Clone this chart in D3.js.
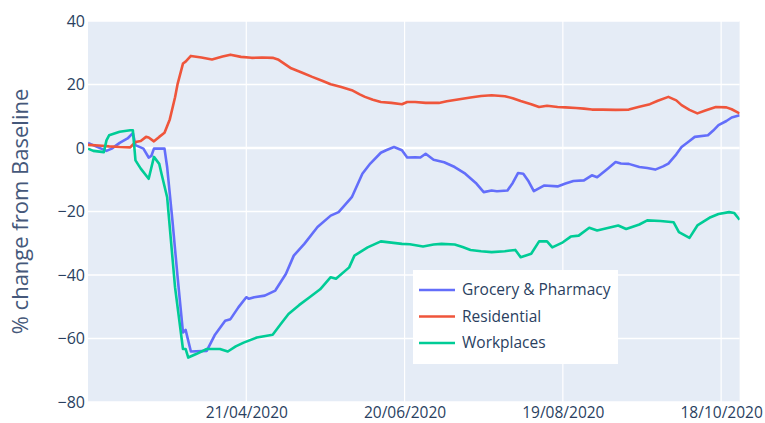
<!DOCTYPE html>
<html>
<head>
<meta charset="utf-8">
<script src="https://cdn.jsdelivr.net/npm/d3@7"></script>
<style>
  html, body { margin: 0; padding: 0; background: #fff; }
  svg { display: block; }
  text { font-family: "Open Sans", "Noto Sans", sans-serif; fill: #2a3f5f; }
</style>
</head>
<body>
<svg id="chart" width="765" height="423"></svg>
<script>
// ---------------- data ----------------
const seriesNames = ["Grocery & Pharmacy", "Residential", "Workplaces"];
const seriesColors = ["#636efa", "#EF553B", "#00cc96"];

const groceryDates = ["2020-02-21","2020-02-24","2020-02-28","2020-03-01","2020-03-04","2020-03-07","2020-03-09","2020-03-10","2020-03-13","2020-03-15","2020-03-16","2020-03-17","2020-03-21","2020-03-22","2020-03-24","2020-03-26","2020-03-28","2020-03-29","2020-03-31","2020-04-06","2020-04-09","2020-04-13","2020-04-15","2020-04-18","2020-04-21","2020-04-22","2020-04-24","2020-04-28","2020-05-02","2020-05-06","2020-05-09","2020-05-13","2020-05-18","2020-05-23","2020-05-26","2020-05-31","2020-06-04","2020-06-07","2020-06-11","2020-06-13","2020-06-16","2020-06-19","2020-06-21","2020-06-24","2020-06-26","2020-06-28","2020-07-01","2020-07-05","2020-07-09","2020-07-13","2020-07-17","2020-07-20","2020-07-23","2020-07-25","2020-07-29","2020-07-31","2020-08-02","2020-08-04","2020-08-06","2020-08-08","2020-08-12","2020-08-17","2020-08-20","2020-08-23","2020-08-27","2020-08-30","2020-09-01","2020-09-05","2020-09-08","2020-09-10","2020-09-13","2020-09-17","2020-09-20","2020-09-23","2020-09-26","2020-09-28","2020-10-01","2020-10-03","2020-10-06","2020-10-08","2020-10-13","2020-10-15","2020-10-17","2020-10-20","2020-10-22","2020-10-25"];
const groceryValues = [1.6,0.5,-0.9,-0.2,1.6,3.0,4.7,0.9,-0.2,-3.0,-2.5,-0.2,-0.2,-6,-22.8,-41,-58.1,-57.3,-64.1,-63.9,-59,-54.4,-53.9,-50.2,-47,-47.5,-47,-46.5,-44.9,-39.7,-33.9,-30.2,-24.9,-21.3,-20.2,-15.5,-8.1,-4.9,-1.5,-0.7,0.3,-0.7,-3.0,-2.9,-3.0,-1.8,-3.7,-4.5,-6,-8.1,-11,-13.9,-13.4,-13.6,-13.4,-11,-7.9,-8.1,-10.5,-13.6,-11.8,-12.1,-11.2,-10.4,-10.2,-8.6,-9.2,-6.5,-4.4,-4.9,-5,-6.0,-6.3,-6.8,-5.8,-4.9,-2,0.3,2.2,3.5,4.0,5.5,7.2,8.5,9.6,10.3];

const residentialDates = ["2020-02-21","2020-02-25","2020-02-29","2020-03-04","2020-03-08","2020-03-10","2020-03-12","2020-03-14","2020-03-15","2020-03-17","2020-03-19","2020-03-21","2020-03-23","2020-03-25","2020-03-26","2020-03-28","2020-03-29","2020-03-31","2020-04-04","2020-04-08","2020-04-12","2020-04-15","2020-04-19","2020-04-23","2020-04-27","2020-05-01","2020-05-03","2020-05-08","2020-05-12","2020-05-16","2020-05-20","2020-05-23","2020-05-27","2020-05-31","2020-06-03","2020-06-05","2020-06-08","2020-06-11","2020-06-15","2020-06-19","2020-06-21","2020-06-24","2020-06-28","2020-07-03","2020-07-06","2020-07-09","2020-07-12","2020-07-15","2020-07-19","2020-07-23","2020-07-28","2020-07-31","2020-08-03","2020-08-07","2020-08-10","2020-08-13","2020-08-17","2020-08-20","2020-08-24","2020-08-27","2020-08-30","2020-09-03","2020-09-08","2020-09-13","2020-09-17","2020-09-21","2020-09-24","2020-09-28","2020-10-01","2020-10-03","2020-10-06","2020-10-09","2020-10-12","2020-10-16","2020-10-20","2020-10-22","2020-10-25"];
const residentialValues = [1.0,0.8,0.5,0.3,0.2,1.9,2.2,3.5,3.3,2.1,3.5,4.8,9,16,20.3,26.6,27.2,29,28.5,27.9,28.8,29.4,28.7,28.4,28.5,28.4,27.9,25.1,23.8,22.4,21.1,20.1,19.2,18.2,16.9,16.1,15.2,14.5,14.2,13.8,14.5,14.5,14.2,14.2,14.7,15.1,15.5,15.9,16.4,16.6,16.3,15.7,14.8,13.8,12.9,13.3,12.9,12.8,12.6,12.4,12.1,12.1,12.0,12.1,13.0,13.8,14.9,16.1,15.0,13.5,12.0,10.9,11.8,12.9,12.8,12.2,10.9];

const workplacesDates = ["2020-02-21","2020-02-23","2020-02-27","2020-02-28","2020-02-29","2020-03-04","2020-03-08","2020-03-09","2020-03-10","2020-03-12","2020-03-15","2020-03-17","2020-03-19","2020-03-20","2020-03-22","2020-03-25","2020-03-28","2020-03-29","2020-03-30","2020-04-02","2020-04-06","2020-04-11","2020-04-14","2020-04-17","2020-04-20","2020-04-25","2020-05-01","2020-05-04","2020-05-07","2020-05-11","2020-05-15","2020-05-19","2020-05-23","2020-05-25","2020-05-30","2020-06-01","2020-06-06","2020-06-11","2020-06-15","2020-06-19","2020-06-22","2020-06-27","2020-07-01","2020-07-04","2020-07-09","2020-07-12","2020-07-15","2020-07-19","2020-07-23","2020-07-28","2020-08-01","2020-08-03","2020-08-07","2020-08-10","2020-08-13","2020-08-15","2020-08-19","2020-08-22","2020-08-25","2020-08-29","2020-09-01","2020-09-05","2020-09-09","2020-09-12","2020-09-17","2020-09-20","2020-09-25","2020-09-30","2020-10-02","2020-10-06","2020-10-09","2020-10-14","2020-10-17","2020-10-21","2020-10-23","2020-10-25"];
const workplacesValues = [-0.2,-0.9,-1.3,2.4,4.0,5.1,5.6,5.6,-3.9,-6.5,-9.7,-2.8,-5,-8.6,-15.5,-43.9,-63.3,-63.3,-66,-64.9,-63.3,-63.3,-64.1,-62.5,-61.3,-59.7,-58.8,-55.5,-52.3,-49.5,-47,-44.5,-40.7,-41.2,-37.6,-33.9,-31.3,-29.4,-29.8,-30.2,-30.3,-31,-30.4,-30.2,-30.4,-31.2,-32.1,-32.5,-32.8,-32.5,-32.1,-34.4,-33.3,-29.4,-29.4,-31.3,-29.7,-27.9,-27.6,-25.1,-26,-25.2,-24.4,-25.5,-24.1,-22.8,-23.0,-23.4,-26.5,-28.3,-24.4,-21.8,-20.8,-20.2,-20.5,-22.6];

const xDomain = ["2020-02-21", "2020-10-25"];
const xTickDates = ["2020-04-21", "2020-06-20", "2020-08-19", "2020-10-18"];
const xTickLabels = ["21/04/2020", "20/06/2020", "19/08/2020", "18/10/2020"];
const yTicks = [40, 20, 0, -20, -40, -60, -80];
const yDomain = [-80, 40];
const yTitle = "% change from Baseline";

// ---------------- drawing ----------------
const parse = d3.timeParse("%Y-%m-%d");
const svg = d3.select("#chart");
const plot = { left: 88, right: 739.6, top: 21, bottom: 402 };

const x = d3.scaleTime().domain(xDomain.map(parse)).range([plot.left, plot.right]);
const y = d3.scaleLinear().domain(yDomain).range([plot.bottom, plot.top]);

svg.append("rect")
  .attr("x", plot.left).attr("y", plot.top)
  .attr("width", plot.right - plot.left).attr("height", plot.bottom - plot.top)
  .attr("fill", "#E5ECF6");

// grid
const grid = svg.append("g");
grid.selectAll("line.gx").data(xTickDates).join("line")
  .attr("x1", d => x(parse(d))).attr("x2", d => x(parse(d)))
  .attr("y1", plot.top).attr("y2", plot.bottom)
  .attr("stroke", "#fff").attr("stroke-width", 1.2);
grid.selectAll("line.gy").data(yTicks).join("line")
  .attr("x1", plot.left).attr("x2", plot.right)
  .attr("y1", d => y(d)).attr("y2", d => y(d))
  .attr("stroke", "#fff").attr("stroke-width", d => d === 0 ? 2.5 : 1.3);

// axes
const yAxis = d3.axisLeft(y).tickValues(yTicks).tickSize(0).tickPadding(2)
  .tickFormat(d => d3.format("")(d).replace("-", "\u2212"));
const gy = svg.append("g").attr("transform", `translate(${plot.left - 1},0)`).call(yAxis);
gy.select(".domain").remove();
gy.selectAll("text").attr("font-size", 16).attr("fill", "#2a3f5f")
  .attr("font-family", "'Open Sans', sans-serif");

const xAxis = d3.axisBottom(x).tickValues(xTickDates.map(parse)).tickSize(0).tickPadding(5)
  .tickFormat((d, i) => xTickLabels[i]);
const gx = svg.append("g").attr("transform", `translate(0,${plot.bottom})`).call(xAxis);
gx.select(".domain").remove();
gx.selectAll("text").attr("font-size", 15.5).attr("fill", "#2a3f5f")
  .attr("font-family", "'Open Sans', sans-serif");

svg.append("text")
  .attr("transform", `translate(28,${(plot.top + plot.bottom) / 2}) rotate(-90)`)
  .attr("text-anchor", "middle")
  .attr("font-size", 22)
  .style("fill", "#45587a")
  .text(yTitle);

// lines
const series = [
  { name: seriesNames[0], color: seriesColors[0], dates: groceryDates, values: groceryValues },
  { name: seriesNames[1], color: seriesColors[1], dates: residentialDates, values: residentialValues },
  { name: seriesNames[2], color: seriesColors[2], dates: workplacesDates, values: workplacesValues }
];
const line = d3.line().x(d => x(d[0])).y(d => y(d[1]));
svg.append("clipPath").attr("id", "clip").append("rect")
  .attr("x", plot.left).attr("y", plot.top)
  .attr("width", plot.right - plot.left).attr("height", plot.bottom - plot.top);
svg.append("g").attr("clip-path", "url(#clip)")
  .selectAll("path").data(series).join("path")
  .attr("d", s => line(s.dates.map((d, i) => [parse(d), s.values[i]])))
  .attr("fill", "none")
  .attr("stroke", s => s.color)
  .attr("stroke-width", 2.6)
  .attr("stroke-linejoin", "round");

// legend
const lg = svg.append("g").attr("transform", "translate(413,270)");
lg.append("rect").attr("width", 205).attr("height", 94).attr("fill", "#fff");
const items = lg.selectAll("g").data(series).join("g")
  .attr("transform", (d, i) => `translate(0,${20 + i * 26.5})`);
items.append("line").attr("x1", 6).attr("x2", 42).attr("y1", 0).attr("y2", 0)
  .attr("stroke", d => d.color).attr("stroke-width", 2.6);
items.append("text").attr("x", 49).attr("y", 0).attr("dy", "0.35em")
  .attr("font-size", 15.5).text(d => d.name);
</script>
</body>
</html>
